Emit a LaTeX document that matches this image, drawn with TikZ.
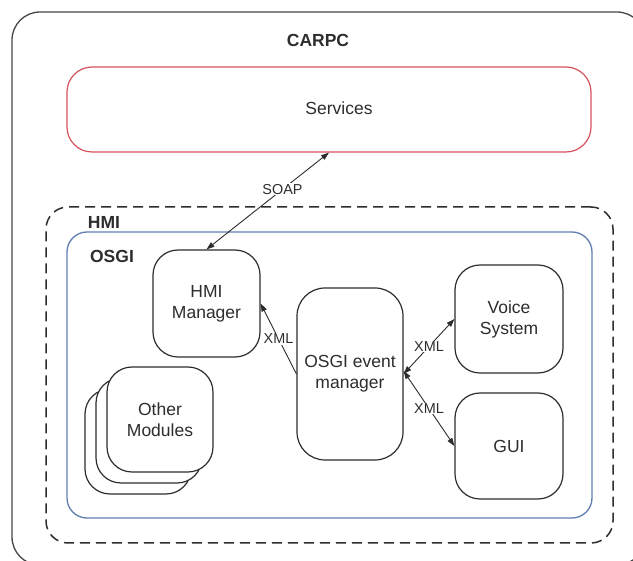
\documentclass[tikz,border=0pt]{standalone}
\usepackage{fontspec}
\setmainfont{Liberation Sans}
\usetikzlibrary{arrows.meta}
\definecolor{frame}{RGB}{70,70,70}
\definecolor{svcred}{RGB}{214,82,92}
\definecolor{osgiblue}{RGB}{96,126,176}
\definecolor{ink}{RGB}{45,45,45}
\tikzset{
  module/.style={draw=ink, line width=1.2pt, fill=white, rounded corners=25pt,
    align=center, text=ink, font=\fontsize{17.5}{21}\selectfont, inner sep=0pt},
  group/.style={line width=1.3pt, rounded corners=22pt, inner sep=0pt},
  grouplabel/.style={font=\fontsize{17.5}{21}\selectfont\bfseries, text=ink, inner sep=0pt},
  link/.style={draw=ink, line width=0.9pt},
  tip/.style={-{Triangle[length=8pt,width=5.5pt]}},
  bothtips/.style={{Triangle[length=8pt,width=5.5pt]}-{Triangle[length=8pt,width=5.5pt]}},
  linklabel/.style={fill=white, text=ink, font=\fontsize{14.4}{16}\selectfont, inner sep=1pt}
}
\begin{document}
\begin{tikzpicture}[x=1pt,y=-1pt]
\useasboundingbox (0,0) rectangle (633,561);
\clip (0,0) rectangle (633,561);

% outer CARPC frame (runs past the right and bottom edges)
\node[group, draw=frame, rounded corners=28pt, minimum width=633pt, minimum height=553pt] (carpc) at (328.5,288.5) {};
\node[grouplabel] (carpclabel) at (318,40) {CARPC};

% services
\node[module, draw=svcred, minimum width=524pt, minimum height=85pt] (services) at (329,109.5) {};
\node[text=ink, font=\fontsize{17.5}{21}\selectfont] (servicestext) at (339,108) {Services};

% HMI and OSGI containers
\node[group, draw=ink, dash pattern=on 10pt off 6pt, line width=1.5pt, minimum width=567pt, minimum height=336pt] (hmi) at (329.5,375) {};
\node[grouplabel] (hmilabel) at (104,222) {HMI};
\node[group, draw=osgiblue, rounded corners=20pt, minimum width=525pt, minimum height=286pt] (osgi) at (329.5,375) {};
\node[grouplabel] (osgilabel) at (112,256) {OSGI};

% modules
\node[module, minimum width=107pt, minimum height=107pt] (hmimgr) at (206.5,303.5) {HMI\\Manager};
\node[module, rounded corners=28pt, minimum width=106pt, minimum height=172pt] (evt) at (350,374) {OSGI event\\manager};
\node[module, minimum width=108pt, minimum height=108pt] (voice) at (509,319) {Voice\\System};
\node[module, minimum width=108pt, minimum height=106pt] (gui) at (509,446) {GUI};

% stacked other modules
\node[module, minimum width=106pt, minimum height=105pt] (other3) at (138,441.5) {};
\node[module, minimum width=106pt, minimum height=105pt] (other2) at (149,430.5) {};
\node[module, minimum width=106pt, minimum height=105pt] (other) at (160,419.5) {Other\\Modules};

% connectors
\draw[link, bothtips] (hmimgr.north) -- node[linklabel, pos=0.62] {SOAP} (services.south);
\draw[link, tip] (evt.west) -- node[linklabel] {XML} (hmimgr.east);
\draw[link, bothtips] (evt.east) -- node[linklabel] {XML} (voice.west);
\draw[link, bothtips] ([yshift=3pt]evt.east) -- node[linklabel] {XML} (gui.west);
\end{tikzpicture}
\end{document}
